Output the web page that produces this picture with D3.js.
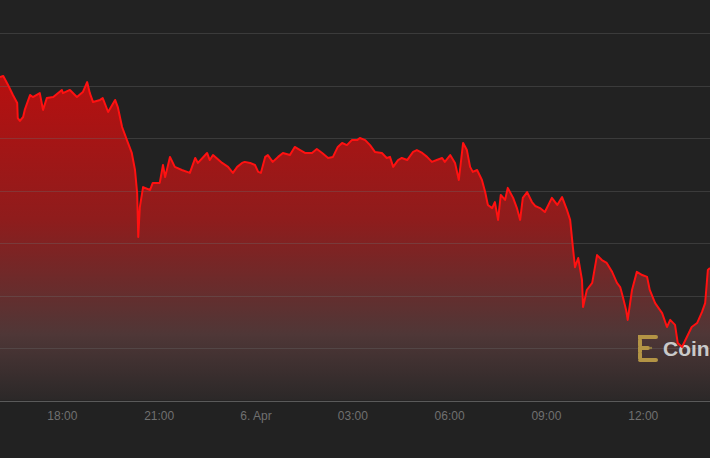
<!DOCTYPE html>
<html>
<head>
<meta charset="utf-8">
<script src="https://cdn.jsdelivr.net/npm/d3@7"></script>
<style>
  html, body { margin: 0; padding: 0; background: #222222; }
  svg { display: block; }
</style>
</head>
<body>
<svg id="chart" width="710" height="458"></svg>
<script>
// ---- data ----
const times = [
"04-05 16:05","04-05 16:11","04-05 16:20","04-05 16:29","04-05 16:37","04-05 16:38","04-05 16:42","04-05 16:48","04-05 16:51",
"04-05 17:01","04-05 17:06","04-05 17:19","04-05 17:25","04-05 17:32","04-05 17:44","04-05 18:00","04-05 18:02","04-05 18:15",
"04-05 18:28","04-05 18:39","04-05 18:47","04-05 18:52","04-05 18:58","04-05 19:11","04-05 19:16","04-05 19:26","04-05 19:39",
"04-05 19:44","04-05 19:52","04-05 20:01","04-05 20:10","04-05 20:16","04-05 20:20","04-05 20:22","04-05 20:25","04-05 20:31",
"04-05 20:44","04-05 20:49","04-05 21:02","04-05 21:08","04-05 21:12","04-05 21:21","04-05 21:30","04-05 21:43","04-05 21:58",
"04-05 22:08","04-05 22:13","04-05 22:30","04-05 22:35","04-05 22:41","04-05 22:58","04-05 23:09","04-05 23:18","04-05 23:26",
"04-05 23:35","04-05 23:40","04-05 23:50","04-05 23:59","04-06 00:05","04-06 00:10","04-06 00:18","04-06 00:23","04-06 00:32",
"04-06 00:42","04-06 00:51","04-06 01:04","04-06 01:13","04-06 01:23","04-06 01:32","04-06 01:45","04-06 01:54","04-06 02:04",
"04-06 02:15","04-06 02:24","04-06 02:33","04-06 02:41","04-06 02:50","04-06 02:59","04-06 03:09","04-06 03:14","04-06 03:24",
"04-06 03:33","04-06 03:42","04-06 03:55","04-06 04:04","04-06 04:10","04-06 04:16","04-06 04:25","04-06 04:32","04-06 04:42",
"04-06 04:53","04-06 05:00","04-06 05:10","04-06 05:19","04-06 05:28","04-06 05:37","04-06 05:47","04-06 05:52","04-06 06:02",
"04-06 06:11","04-06 06:18","04-06 06:26","04-06 06:33","04-06 06:39","04-06 06:44","04-06 06:52","04-06 07:01","04-06 07:07",
"04-06 07:12","04-06 07:20","04-06 07:25","04-06 07:31","04-06 07:36","04-06 07:44","04-06 07:49","04-06 07:59","04-06 08:06",
"04-06 08:12","04-06 08:17","04-06 08:25","04-06 08:34","04-06 08:40","04-06 08:49","04-06 08:58","04-06 09:11","04-06 09:21",
"04-06 09:30","04-06 09:39","04-06 09:45","04-06 09:50","04-06 09:54","04-06 10:00","04-06 10:07","04-06 10:09","04-06 10:16",
"04-06 10:26","04-06 10:35","04-06 10:44","04-06 10:53","04-06 11:03","04-06 11:12","04-06 11:18","04-06 11:23","04-06 11:29",
"04-06 11:32","04-06 11:40","04-06 11:49","04-06 11:59","04-06 12:08","04-06 12:13","04-06 12:23","04-06 12:36","04-06 12:45",
"04-06 12:51","04-06 13:00","04-06 13:05","04-06 13:13","04-06 13:22","04-06 13:31","04-06 13:41","04-06 13:50","04-06 13:56",
"04-06 14:01","04-06 14:05"
];
const prices = [
57832,57836,57802,57764,57733,57676,57665,57680,57707,
57764,57756,57771,57707,57752,57756,57783,57771,57783,
57756,57775,57813,57771,57737,57745,57752,57699,57745,
57718,57642,57592,57543,57478,57390,57223,57337,57413,
57402,57429,57429,57497,57451,57528,57490,57478,57467,
57524,57505,57543,57516,57535,57505,57490,57467,57490,
57505,57509,57505,57497,57471,57467,57528,57535,57509,
57528,57543,57535,57566,57554,57543,57543,57558,57543,
57524,57528,57566,57581,57573,57592,57592,57600,57592,
57573,57547,57543,57524,57528,57490,57516,57524,57516,
57547,57554,57543,57528,57509,57516,57524,57509,57535,
57505,57440,57581,57554,57490,57471,57478,57440,57394,
57345,57333,57356,57288,57383,57364,57410,57372,57333,
57288,57372,57394,57356,57341,57333,57318,57372,57345,
57375,57326,57288,57185,57108,57143,57059,56956,57021,
57048,57154,57135,57124,57090,57048,57032,56994,56945,
56907,57021,57090,57078,57071,57021,56971,56933,56880,
56907,56888,56819,56804,56842,56880,56895,56937,56971,
57097,57105
];
const tickTimes = ["04-05 18:00","04-05 21:00","04-06 00:00","04-06 03:00","04-06 06:00","04-06 09:00","04-06 12:00"];
const tickLabels = ["18:00","21:00","6. Apr","03:00","06:00","09:00","12:00"];
const gridValues = [56800,57000,57200,57400,57600,57800,58000];
const baseValue = 56600;
const timeStart = "04-05 16:05";
const timeEnd = "04-06 14:05";

// ---- chart ----
const W = 710, H = 458;
const parse = d3.timeParse("%m-%d %H:%M");
const data = times.map((t, i) => ({ t: parse(t), v: prices[i] }));

const x = d3.scaleTime().domain([parse(timeStart), parse(timeEnd)]).range([0, W]);
const y = d3.scaleLinear().domain([baseValue, 58000]).range([400.5, 33]);

const svg = d3.select("#chart");
svg.append("rect").attr("width", W).attr("height", H).attr("fill", "#222222");

const defs = svg.append("defs");
const grad = defs.append("linearGradient")
  .attr("id", "areaGrad").attr("gradientUnits", "userSpaceOnUse")
  .attr("x1", 0).attr("x2", 0).attr("y1", 70).attr("y2", y(baseValue));
[[0, "#b80f0f"], [0.45, "#8f1c1c"], [0.8, "#4f3737"], [1, "#2b2828"]].forEach(([o, c]) =>
  grad.append("stop").attr("offset", o).attr("stop-color", c));

// area
const area = d3.area().x(d => x(d.t)).y0(y(baseValue)).y1(d => y(d.v));
const line = d3.line().x(d => x(d.t)).y(d => y(d.v));
svg.append("path").datum(data).attr("d", area).attr("fill", "url(#areaGrad)");

// grid lines (visible over the fill)
svg.append("g").selectAll("line").data(gridValues).join("line")
  .attr("x1", 0).attr("x2", W)
  .attr("y1", d => Math.round(y(d)) + 0.5).attr("y2", d => Math.round(y(d)) + 0.5)
  .attr("stroke", "#6a6a6a").attr("stroke-opacity", 0.35).attr("stroke-width", 1);

// watermark
const wm = svg.append("g").attr("class", "watermark");
wm.append("path")
  .attr("d", "M656,337 H640 V360 H656 M640,348 H648")
  .attr("fill", "none").attr("stroke", "#b39445").attr("stroke-width", 4)
  .attr("stroke-dasharray", "5,1.5").attr("stroke-linecap", "round");
wm.append("circle").attr("cx", 651).attr("cy", 348).attr("r", 1.2).attr("fill", "#8f7a40");
wm.append("text").attr("x", 663).attr("y", 356)
  .attr("font-family", "Liberation Sans, Arial, sans-serif").attr("font-weight", "bold")
  .attr("font-size", 21).attr("fill", "#c9c9c9").text("Coin");

// line
svg.append("path").datum(data).attr("d", line)
  .attr("fill", "none").attr("stroke", "#ff1111").attr("stroke-width", 2)
  .attr("stroke-linejoin", "round");

// x axis
const xAxis = d3.axisBottom(x)
  .tickValues(tickTimes.map(parse))
  .tickFormat((d, i) => tickLabels[i])
  .tickSize(0).tickPadding(10);
const gx = svg.append("g").attr("transform", `translate(0,${Math.round(y(baseValue)) + 0.5})`).call(xAxis);
gx.select(".domain").attr("stroke", "#5a5a5a").attr("d", `M0,0H${W}`);
gx.selectAll("text")
  .attr("font-family", "Liberation Sans, Arial, sans-serif")
  .attr("font-size", 12).attr("fill", "#707070");
</script>
</body>
</html>
